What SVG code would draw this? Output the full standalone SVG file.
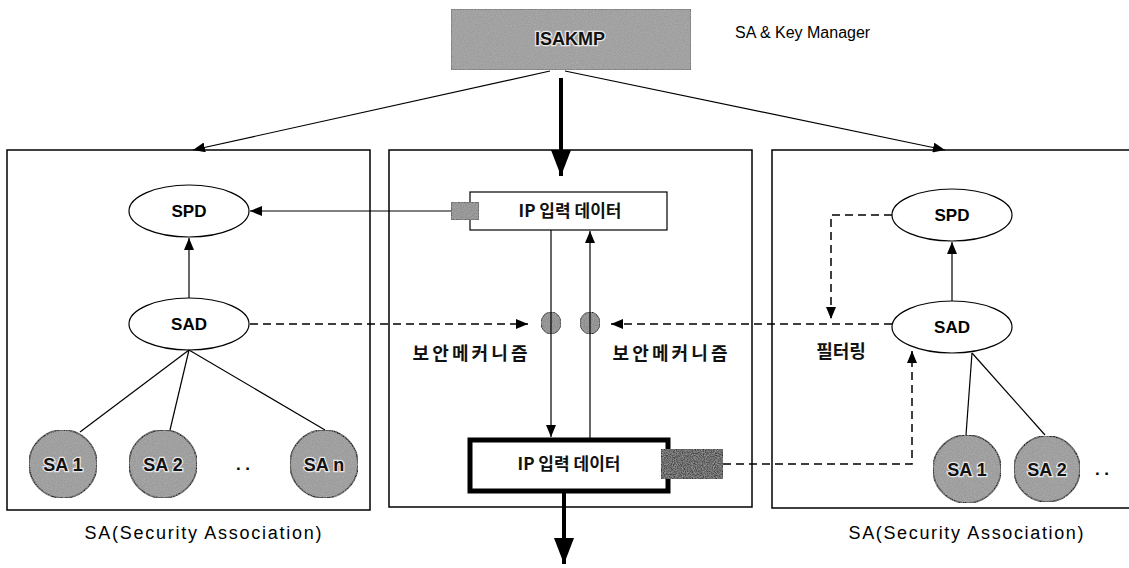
<svg xmlns="http://www.w3.org/2000/svg" width="1129" height="568" viewBox="0 0 1129 568">
<style>
.box{fill:#fff;stroke:#000;stroke-width:1.5}
.ell{fill:#fff;stroke:#000;stroke-width:1.2}
.lbl{font-family:"Liberation Sans",Arial,sans-serif;font-weight:bold;font-size:17px;fill:#000;text-anchor:middle}
.kr{font-family:"Noto Sans CJK KR","Liberation Sans",sans-serif;font-weight:bold;font-size:17px;fill:#111;text-anchor:middle}
.kr2{font-family:"Noto Sans CJK KR","Liberation Sans",sans-serif;font-weight:bold;font-size:18px;fill:#111;text-anchor:middle}
.cap{font-family:"Liberation Sans",Arial,sans-serif;font-size:18px;fill:#000;text-anchor:middle}
.sa{fill:#9a9a9a;stroke:#222;stroke-width:1.5}
.satxt{font-family:"Liberation Sans",Arial,sans-serif;font-weight:bold;font-size:18px;fill:#111;text-anchor:middle;stroke:#e8e8e8;stroke-width:2.5;paint-order:stroke}
.ln{fill:none;stroke:#000;stroke-width:1.2}
.dash{fill:none;stroke:#000;stroke-width:1.5;stroke-dasharray:8 5}
.thick{fill:none;stroke:#000;stroke-width:4}
</style>
<defs>
<marker id="ah" viewBox="0 0 12 10" refX="12" refY="5" markerWidth="12" markerHeight="10" markerUnits="userSpaceOnUse" orient="auto">
<path d="M0,0 L12,5 L0,10 z" fill="#000"/>
</marker>
<marker id="ahb" viewBox="0 0 26 20" refX="26" refY="10" markerWidth="26" markerHeight="20" markerUnits="userSpaceOnUse" orient="auto">
<path d="M0,0 L26,10 L0,20 z" fill="#000"/>
</marker>
<filter id="tex" x="0" y="0" width="1" height="1">
<feTurbulence type="fractalNoise" baseFrequency="0.9" numOctaves="2" seed="3" result="n"/>
<feColorMatrix in="n" type="matrix" values="0 0 0 0 0.45  0 0 0 0 0.45  0 0 0 0 0.45  0 0 0 1.2 -0.35" result="c"/>
<feComposite in="c" in2="SourceGraphic" operator="in" result="m"/>
<feMerge><feMergeNode in="SourceGraphic"/><feMergeNode in="m"/></feMerge>
</filter>
</defs>

<!-- top -->
<g id="isakmp">
<rect x="451" y="9" width="240" height="61" fill="#9c9c9c" stroke="#555" stroke-width="1" filter="url(#tex)"/>
<text x="570" y="45" class="satxt">ISAKMP</text>
</g>
<text id="keymgr" x="735" y="38" font-family="Liberation Sans, Arial, sans-serif" font-size="16" fill="#000">SA &amp; Key Manager</text>

<!-- panels -->
<g id="leftPanel"><rect class="box" x="7" y="150" width="363" height="360"/></g>
<g id="centerPanel"><rect class="box" x="389" y="150" width="363" height="357"/></g>
<g id="rightPanel"><path class="box" d="M1135,150 L772,150 L772,508 L1135,508" fill="#fff"/></g>

<!-- left panel nodes -->
<g id="spdL"><ellipse class="ell" cx="189" cy="211" rx="60" ry="26"/><text class="lbl" x="189" y="217">SPD</text></g>
<g id="sadL"><ellipse class="ell" cx="189" cy="324" rx="60" ry="26"/><text class="lbl" x="189" y="330">SAD</text></g>
<g id="sa1L"><circle class="sa" cx="63" cy="464" r="34" filter="url(#tex)"/><text class="satxt" x="63" y="471">SA 1</text></g>
<g id="sa2L"><circle class="sa" cx="163" cy="464" r="34" filter="url(#tex)"/><text class="satxt" x="163" y="471">SA 2</text></g>
<g id="sanL"><circle class="sa" cx="324" cy="464" r="34" filter="url(#tex)"/><text class="satxt" x="324" y="471">SA n</text></g>
<text x="243" y="470" class="lbl">. .</text>
<text class="cap" x="203" y="539" textLength="237" lengthAdjust="spacing">SA(Security Association)</text>

<!-- center panel nodes -->
<g id="ipTop">
<rect x="470" y="192" width="197" height="38" fill="#fff" stroke="#000" stroke-width="1.2"/>
<rect x="451" y="202" width="28" height="18" fill="#8e8e8e" stroke="#333" stroke-width="1" filter="url(#tex)"/>
<text class="kr" x="570" y="217">IP 입력 데이터</text>
</g>
<g id="mechL"><ellipse cx="551" cy="323" rx="10" ry="11" fill="#8a8a8a" stroke="#222" stroke-width="1" filter="url(#tex)"/></g>
<g id="mechR"><ellipse cx="590" cy="323" rx="10" ry="11" fill="#8a8a8a" stroke="#222" stroke-width="1" filter="url(#tex)"/></g>
<text class="kr2" x="470" y="360" textLength="115" lengthAdjust="spacing">보안메커니즘</text>
<text class="kr2" x="670" y="360" textLength="115" lengthAdjust="spacing">보안메커니즘</text>
<g id="ipBottom">
<rect x="470" y="440" width="198" height="51" fill="#fff" stroke="#000" stroke-width="5"/>
<rect x="661" y="449" width="62" height="30" fill="#4a4a4a" stroke="#222" stroke-width="1" filter="url(#tex)"/>
<text class="kr" x="569" y="470">IP 입력 데이터</text>
</g>

<!-- right panel nodes -->
<g id="spdR"><ellipse class="ell" cx="952" cy="215" rx="60" ry="26"/><text class="lbl" x="952" y="221">SPD</text></g>
<g id="sadR"><ellipse class="ell" cx="952" cy="327" rx="60" ry="26"/><text class="lbl" x="952" y="333">SAD</text></g>
<g id="sa1R"><circle class="sa" cx="967" cy="469" r="34" filter="url(#tex)"/><text class="satxt" x="967" y="476">SA 1</text></g>
<g id="sa2R"><circle class="sa" cx="1047" cy="469" r="33" filter="url(#tex)"/><text class="satxt" x="1047" y="476">SA 2</text></g>
<text x="1102" y="475" class="lbl">. .</text>
<text class="kr2" x="841" y="358">필터링</text>
<text class="cap" x="966" y="539" textLength="235" lengthAdjust="spacing">SA(Security Association)</text>

<!-- connectors -->
<g id="connectors">
<line class="ln" x1="550" y1="71" x2="193" y2="150" marker-end="url(#ah)"/>
<line class="ln" x1="565" y1="71" x2="945" y2="150" marker-end="url(#ah)"/>
<line class="thick" x1="561" y1="78" x2="561" y2="176" marker-end="url(#ahb)"/>
<line class="thick" x1="564" y1="493" x2="564" y2="564" marker-end="url(#ahb)"/>
<line class="ln" x1="451" y1="211" x2="250" y2="211" marker-end="url(#ah)"/>
<line class="ln" x1="189" y1="298" x2="189" y2="238" marker-end="url(#ah)"/>
<line class="ln" x1="189" y1="350" x2="80" y2="432"/>
<line class="ln" x1="189" y1="350" x2="170" y2="430"/>
<line class="ln" x1="189" y1="350" x2="325" y2="430"/>
<line class="dash" x1="250" y1="324" x2="528" y2="324" marker-end="url(#ah)"/>
<line class="ln" x1="551" y1="230" x2="551" y2="437" marker-end="url(#ah)"/>
<line class="ln" x1="590" y1="438" x2="590" y2="231" marker-end="url(#ah)"/>
<line class="dash" x1="892" y1="324" x2="611" y2="324" marker-end="url(#ah)"/>
<polyline class="dash" points="892,215 831,215 831,319" marker-end="url(#ah)"/>
<line class="ln" x1="952" y1="301" x2="952" y2="242" marker-end="url(#ah)"/>
<polyline class="dash" points="723,464 912,464 912,351" marker-end="url(#ah)"/>
<line class="ln" x1="972" y1="353" x2="966" y2="435"/>
<line class="ln" x1="972" y1="353" x2="1045" y2="435"/>
</g>
</svg>
